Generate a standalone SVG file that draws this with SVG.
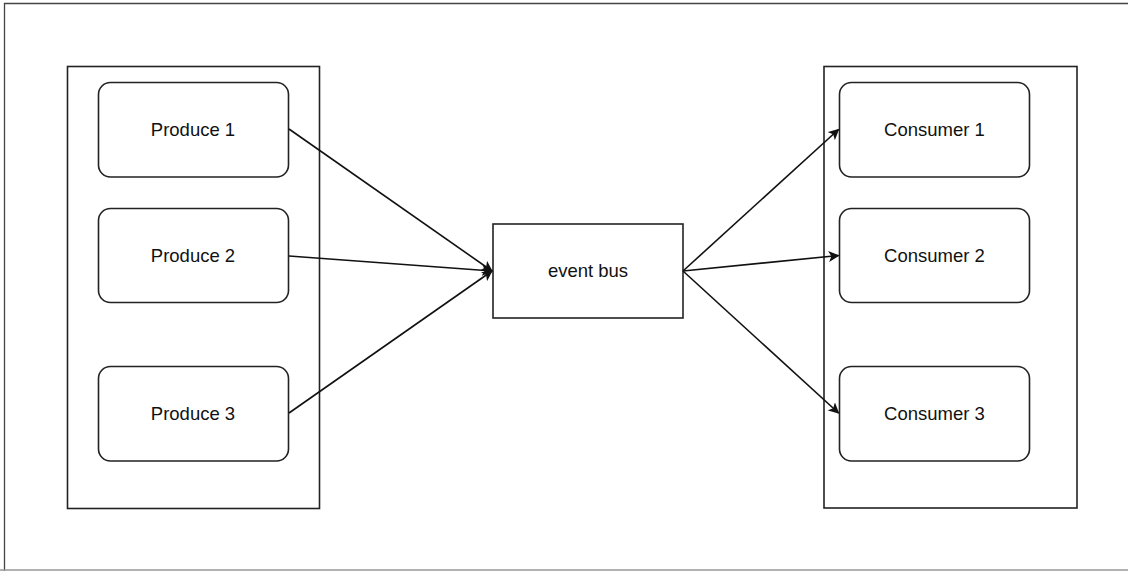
<svg xmlns="http://www.w3.org/2000/svg" width="1128" height="571" viewBox="0 0 1128 571">
<style>
.frame{fill:none;stroke:#222;stroke-width:1.6}
.node{fill:#fff;stroke:#222;stroke-width:1.6}
.lbl{font-family:"Liberation Sans",Arial,sans-serif;font-size:18.5px;fill:#111;text-anchor:middle}
.edge{fill:none;stroke:#111;stroke-width:1.6}
</style>
<defs>
<marker id="arr" viewBox="0 0 10 10" refX="9" refY="5" markerWidth="11" markerHeight="11" markerUnits="userSpaceOnUse" orient="auto">
<path d="M0,0 L10,5 L0,10 L2.5,5 Z" fill="#111"/>
</marker>
</defs>
<rect width="1128" height="571" fill="#fff"/>
<path d="M4.5,571 L4.5,3.5 L1128,3.5" fill="none" stroke="#444" stroke-width="1.3"/>
<line x1="0" y1="570" x2="1128" y2="570" stroke="#999" stroke-width="1.3"/>
<g id="producers">
<rect class="frame" x="67.5" y="66.5" width="252" height="442"/>
</g>
<g id="consumers">
<rect class="frame" x="824" y="66.5" width="253" height="441.5"/>
</g>
<g id="produce1"><rect class="node" x="98.5" y="82.5" width="190" height="94.5" rx="12"/><text class="lbl" x="193" y="136">Produce 1</text></g>
<g id="produce2"><rect class="node" x="98.5" y="208.5" width="190" height="94" rx="12"/><text class="lbl" x="193" y="262">Produce 2</text></g>
<g id="produce3"><rect class="node" x="98.5" y="366.5" width="190" height="94.5" rx="12"/><text class="lbl" x="193" y="420">Produce 3</text></g>
<g id="eventbus"><rect class="node" x="493" y="224" width="190" height="94"/><text class="lbl" x="588" y="277">event bus</text></g>
<g id="consumer1"><rect class="node" x="839.5" y="82.5" width="190" height="94.5" rx="12"/><text class="lbl" x="934.5" y="136">Consumer 1</text></g>
<g id="consumer2"><rect class="node" x="839.5" y="208.5" width="190" height="94" rx="12"/><text class="lbl" x="934.5" y="262">Consumer 2</text></g>
<g id="consumer3"><rect class="node" x="839.5" y="366.5" width="190" height="94.5" rx="12"/><text class="lbl" x="934.5" y="420">Consumer 3</text></g>
<g id="connectors">
<line class="edge" x1="289" y1="129" x2="492" y2="271" marker-end="url(#arr)"/>
<line class="edge" x1="289" y1="256" x2="492" y2="271" marker-end="url(#arr)"/>
<line class="edge" x1="289" y1="413" x2="492" y2="271" marker-end="url(#arr)"/>
<line class="edge" x1="683" y1="271" x2="838.5" y2="129.5" marker-end="url(#arr)"/>
<line class="edge" x1="683" y1="271" x2="838.5" y2="255.5" marker-end="url(#arr)"/>
<line class="edge" x1="683" y1="271" x2="838.5" y2="413" marker-end="url(#arr)"/>
</g>
</svg>
